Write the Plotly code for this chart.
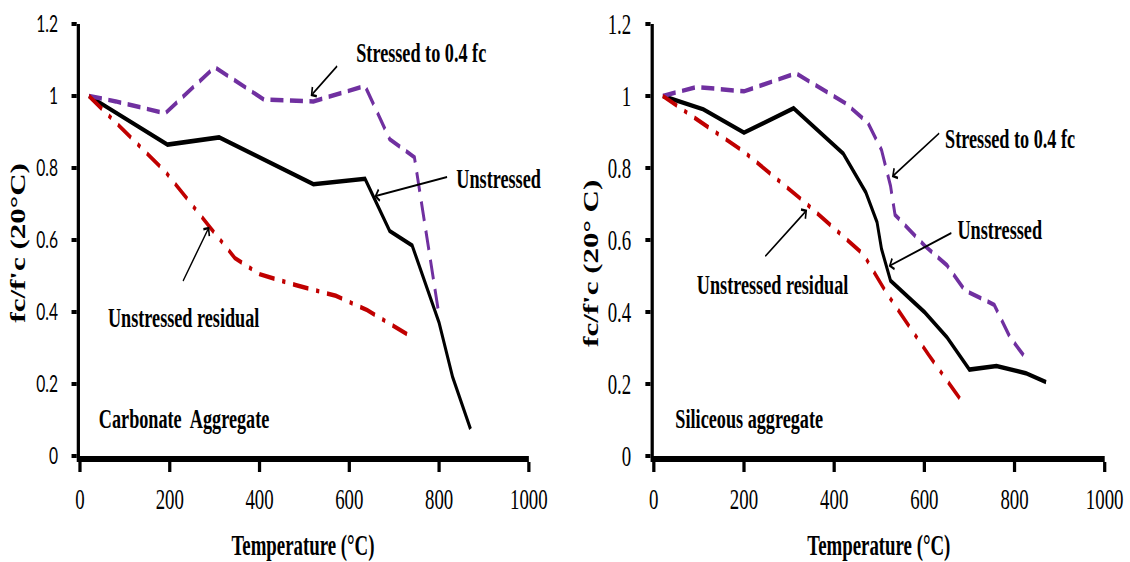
import plotly.graph_objects as go

# ---------------- data ----------------
# Carbonate aggregate
carb_unstressed_t = [20, 195, 310, 400, 520, 635, 690, 740, 800, 830, 870]
carb_unstressed_r = [1.0, 0.865, 0.885, 0.83, 0.755, 0.77, 0.625, 0.585, 0.37, 0.22, 0.075]

carb_stressed_t = [20, 80, 190, 300, 410, 520, 635, 690, 745, 800]
carb_stressed_r = [1.0, 0.985, 0.952, 1.08, 0.99, 0.985, 1.028, 0.88, 0.83, 0.39]

carb_residual_t = [20, 190, 290, 345, 400, 480, 570, 640, 740]
carb_residual_r = [1.0, 0.79, 0.635, 0.55, 0.505, 0.475, 0.445, 0.405, 0.33]

# Siliceous aggregate
sil_unstressed_t = [20, 110, 200, 310, 420, 470, 495, 505, 525, 600, 650, 700, 760, 825, 870]
sil_unstressed_r = [1.0, 0.963, 0.898, 0.966, 0.84, 0.733, 0.65, 0.575, 0.487, 0.40, 0.33, 0.24, 0.25, 0.23, 0.205]

sil_stressed_t = [20, 95, 200, 315, 425, 475, 505, 525, 535, 600, 650, 690, 755, 790, 820]
sil_stressed_r = [1.0, 1.025, 1.013, 1.063, 0.98, 0.925, 0.85, 0.75, 0.67, 0.585, 0.53, 0.46, 0.42, 0.33, 0.28]

sil_residual_t = [20, 200, 330, 465, 515, 610, 670, 690]
sil_residual_r = [1.0, 0.845, 0.71, 0.56, 0.455, 0.28, 0.175, 0.14]

x_ticks = [0, 200, 400, 600, 800, 1000]
y_ticks = [0, 0.2, 0.4, 0.6, 0.8, 1, 1.2]
y_tick_text = ["0", "0.2", "0.4", "0.6", "0.8", "1", "1.2"]

# ---------------- layout helpers ----------------
SX = 0.65                     # horizontal squeeze of the rendered page
PAGE_W, PAGE_H = 1130, 562
FIG_W = round(PAGE_W / SX)

SERIF = "Liberation Serif, Times New Roman, serif"
SANS = "Lato, Carlito, Calibri, sans-serif"

BLACK = "#000000"
PURPLE = "#7030A0"
RED = "#C00000"


def px_x(p):
    return p / PAGE_W


def px_y(p):
    return 1 - p / PAGE_H


fig = go.Figure()


def add_panel(xa, ya, unst, stre, resi):
    fig.add_trace(go.Scatter(x=unst[0], y=unst[1], mode="lines", xaxis=xa, yaxis=ya,
                             line=dict(color=BLACK, width=4.5), showlegend=False))
    fig.add_trace(go.Scatter(x=stre[0], y=stre[1], mode="lines", xaxis=xa, yaxis=ya,
                             line=dict(color=PURPLE, width=4.5, dash="20px,10px"), showlegend=False))
    fig.add_trace(go.Scatter(x=resi[0], y=resi[1], mode="lines", xaxis=xa, yaxis=ya,
                             line=dict(color=RED, width=4.5, dash="24px,12px,5px,12px"), showlegend=False))


add_panel("x", "y", (carb_unstressed_t, carb_unstressed_r),
          (carb_stressed_t, carb_stressed_r), (carb_residual_t, carb_residual_r))
add_panel("x2", "y2", (sil_unstressed_t, sil_unstressed_r),
          (sil_stressed_t, sil_stressed_r), (sil_residual_t, sil_residual_r))

y_dom = [px_y(456), px_y(24)]

x_common = dict(range=[0, 1000], tickvals=x_ticks, showgrid=False, zeroline=False,
                showline=True, linecolor="black", linewidth=6, automargin=False,
                ticks="outside", ticklen=10, tickwidth=5, tickcolor="black",
                ticklabelstandoff=2,
                tickfont=dict(family=SERIF, size=29, color="black"))

y_common = dict(range=[0, 1.2], tickvals=y_ticks, ticktext=y_tick_text, showgrid=False,
                zeroline=False, showline=True, linecolor="black", linewidth=5, automargin=False,
                ticks="outside", ticklen=8, tickwidth=4, tickcolor="black",
                ticklabelstandoff=16, domain=y_dom)

fig.update_layout(
    width=FIG_W, height=PAGE_H,
    margin=dict(l=0, r=0, t=0, b=0, pad=0, autoexpand=False),
    paper_bgcolor="white", plot_bgcolor="white",
    xaxis=dict(domain=[px_x(80), px_x(529)], anchor="y", **x_common),
    yaxis=dict(anchor="x", tickfont=dict(family=SANS, size=24, color="black"), **y_common),
    xaxis2=dict(domain=[px_x(654), px_x(1105)], anchor="y2", **x_common),
    yaxis2=dict(anchor="x2", tickfont=dict(family=SERIF, size=29, color="black"), **y_common),
)

label_font = dict(family=SERIF, size=28, color="black", weight="bold")
title_font = dict(family=SERIF, size=29, color="black", weight="bold")
ytitle_font = dict(family=SERIF, size=31, color="black", weight="bold")

annotations = []


def text_note(xr, yr, x, y, text):
    annotations.append(dict(xref=xr, yref=yr, x=x, y=y, text=text, showarrow=False,
                            xanchor="center", yanchor="middle", font=label_font))


def arrow_note(xr, yr, head, tail):
    annotations.append(dict(xref=xr, yref=yr, axref=xr, ayref=yr,
                            x=head[0], y=head[1], ax=tail[0], ay=tail[1], text="",
                            showarrow=True, arrowhead=4, arrowsize=1.1, arrowwidth=2,
                            arrowcolor="black", standoff=0, startstandoff=0))


# Carbonate panel labels
text_note("x", "y", 760, 1.122, "Stressed to 0.4 fc")
arrow_note("x", "y", (514, 1.0), (575, 1.086))
text_note("x", "y", 933, 0.77, "Unstressed")
arrow_note("x", "y", (656, 0.721), (820, 0.776))
text_note("x", "y", 231, 0.385, "Unstressed residual")
arrow_note("x", "y", (288, 0.637), (228, 0.482))
text_note("x", "y", 231, 0.105, "Carbonate  Aggregate")

# Siliceous panel labels
text_note("x2", "y2", 790, 0.883, "Stressed to 0.4 fc")
arrow_note("x2", "y2", (528, 0.775), (635, 0.899))
text_note("x2", "y2", 768, 0.629, "Unstressed")
arrow_note("x2", "y2", (521, 0.527), (662, 0.621))
text_note("x2", "y2", 263, 0.477, "Unstressed residual")
arrow_note("x2", "y2", (340, 0.684), (245, 0.552))
text_note("x2", "y2", 212, 0.105, "Siliceous aggregate")

# Axis titles
for cx, txt in [(303, "Temperature (°C)"), (879, "Temperature (°C)")]:
    annotations.append(dict(xref="paper", yref="paper", x=px_x(cx), y=px_y(545), text=txt,
                            showarrow=False, xanchor="center", yanchor="middle", font=title_font))
for cx, cy, txt in [(18, 243, "fc/f'c (20°C)"), (591, 263, "fc/f'c (20° C)")]:
    annotations.append(dict(xref="paper", yref="paper", x=px_x(cx), y=px_y(cy), text=txt,
                            showarrow=False, textangle=-90, xanchor="center", yanchor="middle",
                            font=ytitle_font))

fig.update_layout(annotations=annotations)

# Squeeze the rendered page horizontally; render axis strokes without edge snapping
squeeze_js = """
var gd = document.getElementById('{plot_id}');
document.documentElement.style.margin = '0';
document.documentElement.style.overflow = 'hidden';
document.body.style.margin = '0';
document.body.style.overflow = 'hidden';
gd.querySelectorAll('path').forEach(function (p) {
    p.style.shapeRendering = 'geometricPrecision';
});
gd.style.transformOrigin = '0 0';
gd.style.transform = 'scaleX(%s)';
""" % SX

fig.write_html("out.html", config={"displayModeBar": False}, post_script=squeeze_js)
